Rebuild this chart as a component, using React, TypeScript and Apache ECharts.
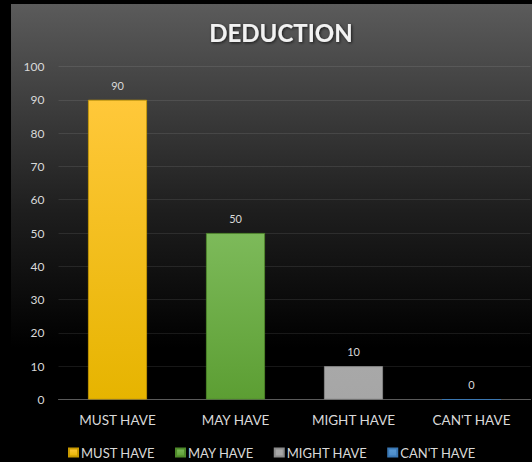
import React, { useEffect, useRef } from "react";
import * as echarts from "echarts";

const categories = ["MUST HAVE", "MAY HAVE", "MIGHT HAVE", "CAN'T HAVE"];
const values = [90, 50, 10, 0];
const yTicks = { min: 0, max: 100, interval: 10 };
const colorsTop = ["#ffc83a", "#7dba5a", "#a8a8a8", "#5b9bd5"];
const colorsBottom = ["#e6b400", "#5c9e33", "#a6a6a6", "#4a8ac8"];
const borderColors = ["#c99a00", "#4f8a2a", "#8c8c8c", "#3a78b5"];

const FONT = "Lato";

export default function App() {
  const ref = useRef<HTMLDivElement>(null);
  useEffect(() => {
    if (!ref.current) return;
    const chart = echarts.init(ref.current, undefined, { renderer: "svg" });
    const series = categories.map((name, i) => ({
      name,
      type: "bar",
      stack: "all",
      barWidth: 59,
      data: values.map((v, j) => (j === i ? v : "-")),
      itemStyle: {
        color: new echarts.graphic.LinearGradient(0, 0, 0, 1, [
          { offset: 0, color: colorsTop[i] },
          { offset: 1, color: colorsBottom[i] },
        ]),
        borderColor: borderColors[i],
        borderWidth: 0.8,
      },
      label: {
        show: true,
        position: "top",
        distance: 9,
        color: "#d9d9d9",
        fontFamily: FONT,
        fontSize: 11,
      },
    }));
    chart.setOption({
      animation: false,
      backgroundColor: "#000",
      graphic: [
        {
          type: "rect",
          z: -100,
          silent: true,
          shape: { x: 11, y: 4, width: 521, height: 458 },
          style: {
            fill: new echarts.graphic.LinearGradient(0, 0, 0, 1, [
              { offset: 0, color: "#5b5b5b" },
              { offset: 0.45, color: "#1e1e1e" },
              { offset: 0.75, color: "#000000" },
              { offset: 1, color: "#000000" },
            ]),
          },
        },
      ],
      title: {
        text: "DEDUCTION",
        left: 276,
        top: 15,
        textAlign: "center",
        textStyle: {
          color: "#f2f2f2",
          fontFamily: FONT,
          fontWeight: "bold",
          fontSize: 24,
          textShadowColor: "rgba(0,0,0,0.7)",
          textShadowBlur: 3,
          textShadowOffsetX: 1,
          textShadowOffsetY: 1,
        },
      },
      legend: {
        top: 441,
        left: 63,
        itemWidth: 9,
        itemHeight: 8,
        itemGap: 20,
        icon: "rect",
        textStyle: {
          color: "#d9d9d9",
          fontFamily: FONT,
          fontSize: 13,
          padding: [0, 0, 0, -2],
        },
        data: categories,
      },
      grid: { left: 58.5, right: 1.5, top: 66.5, bottom: 62.5 },
      xAxis: {
        type: "category",
        data: categories,
        axisTick: { show: false },
        axisLine: { lineStyle: { color: "#5a5a5a", width: 1 } },
        axisLabel: {
          color: "#d9d9d9",
          fontFamily: FONT,
          fontSize: 13.5,
          margin: 13,
        },
      },
      yAxis: {
        type: "value",
        min: yTicks.min,
        max: yTicks.max,
        interval: yTicks.interval,
        axisLine: { show: false },
        axisTick: { show: false },
        axisLabel: {
          color: "#d9d9d9",
          fontFamily: FONT,
          fontSize: 12,
          margin: 14,
        },
        splitLine: { lineStyle: { color: "rgba(255,255,255,0.09)", width: 1 } },
      },
      series,
    });
    return () => chart.dispose();
  }, []);
  return (
    <div
      ref={ref}
      style={{ position: "fixed", left: 0, top: 0, width: 532, height: 462 }}
    />
  );
}
